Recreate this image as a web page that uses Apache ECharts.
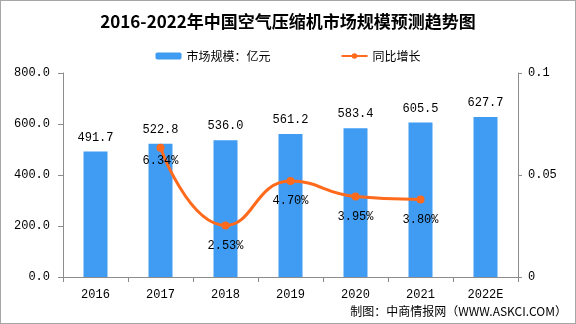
<!DOCTYPE html>
<html>
<head>
<meta charset="utf-8">
<script src="https://cdn.jsdelivr.net/npm/echarts@6/dist/echarts.min.js"></script>
<style>
  html, body { margin: 0; padding: 0; background: #fff; }
  #main { width: 574px; height: 322px; border: 1px solid #a6a6a6; }
</style>
</head>
<body>
<div id="main"></div>
<script>
// 年份
var years = ['2016', '2017', '2018', '2019', '2020', '2021', '2022E'];
// 市场规模（亿元）
var marketSize = [491.7, 522.8, 536.0, 561.2, 583.4, 605.5, 627.7];
// 同比增长
var growth = [null, 0.0634, 0.0253, 0.0470, 0.0395, 0.0380, null];

var monoFont = '"Liberation Mono", "DejaVu Sans Mono", monospace';
var axisGray = '#8c8c8c';

// 6.34% 标签离点更近
var growthData = growth.map(function (v, i) {
  if (i === 1) return { value: v, label: { distance: 3 } };
  return v;
});

var chart = echarts.init(document.getElementById('main'));
chart.setOption({
  animation: false,
  title: {
    text: '2016-2022年中国空气压缩机市场规模预测趋势图',
    left: 'center',
    top: 7,
    textStyle: { fontFamily: '"Noto Sans CJK SC"', fontSize: 17, fontWeight: 'bold', color: '#000' }
  },
  legend: {
    top: 44,
    left: 'center',
    itemGap: 70,
    itemWidth: 26,
    itemHeight: 7,
    textStyle: { fontFamily: '"Noto Sans CJK SC"', fontSize: 12, color: '#000' },
    data: ['市场规模：亿元', '同比增长']
  },
  grid: { left: 62, right: 57, top: 72, bottom: 46 },
  xAxis: {
    type: 'category',
    data: years,
    axisLine: { lineStyle: { color: axisGray } },
    axisTick: { show: true, length: 5, lineStyle: { color: axisGray } },
    axisLabel: { color: '#000', fontFamily: monoFont, fontSize: 12, margin: 12 }
  },
  yAxis: [
    {
      type: 'value',
      min: 0, max: 800, interval: 200,
      splitLine: { show: false },
      axisLine: { show: true, lineStyle: { color: axisGray } },
      axisTick: { show: true, length: 5, lineStyle: { color: axisGray } },
      axisLabel: { color: '#000', fontFamily: monoFont, fontSize: 12, margin: 13,
        formatter: function (v) { return v.toFixed(1); } }
    },
    {
      type: 'value',
      min: 0, max: 0.1, interval: 0.05,
      splitLine: { show: false },
      axisLine: { show: true, lineStyle: { color: axisGray } },
      axisTick: { show: true, length: 4, lineStyle: { color: axisGray } },
      axisLabel: { color: '#000', fontFamily: monoFont, fontSize: 12, margin: 10,
        formatter: function (v) { return v === 0 ? '0' : String(+v.toFixed(2)); } }
    }
  ],
  series: [
    {
      name: '市场规模：亿元',
      type: 'bar',
      barWidth: 24,
      data: marketSize,
      itemStyle: { color: '#3f9cf2' },
      label: { show: true, position: 'top', distance: 8, color: '#000', fontFamily: monoFont, fontSize: 12,
        formatter: function (p) { return p.value.toFixed(1); } }
    },
    {
      name: '同比增长',
      type: 'line',
      yAxisIndex: 1,
      smooth: true,
      data: growthData,
      symbol: 'circle',
      symbolSize: 8,
      lineStyle: { color: '#ff6a1c', width: 3 },
      itemStyle: { color: '#ff6a1c' },
      label: { show: true, position: 'bottom', distance: 10, color: '#000', fontFamily: monoFont, fontSize: 12,
        formatter: function (p) { return (p.value * 100).toFixed(2) + '%'; } }
    }
  ],
  graphic: [
    {
      type: 'text',
      right: 8,
      bottom: 6,
      style: { text: '制图：中商情报网（WWW.ASKCI.COM）', fill: '#000', font: '12px "Noto Sans CJK SC"' }
    }
  ]
});
</script>
</body>
</html>
